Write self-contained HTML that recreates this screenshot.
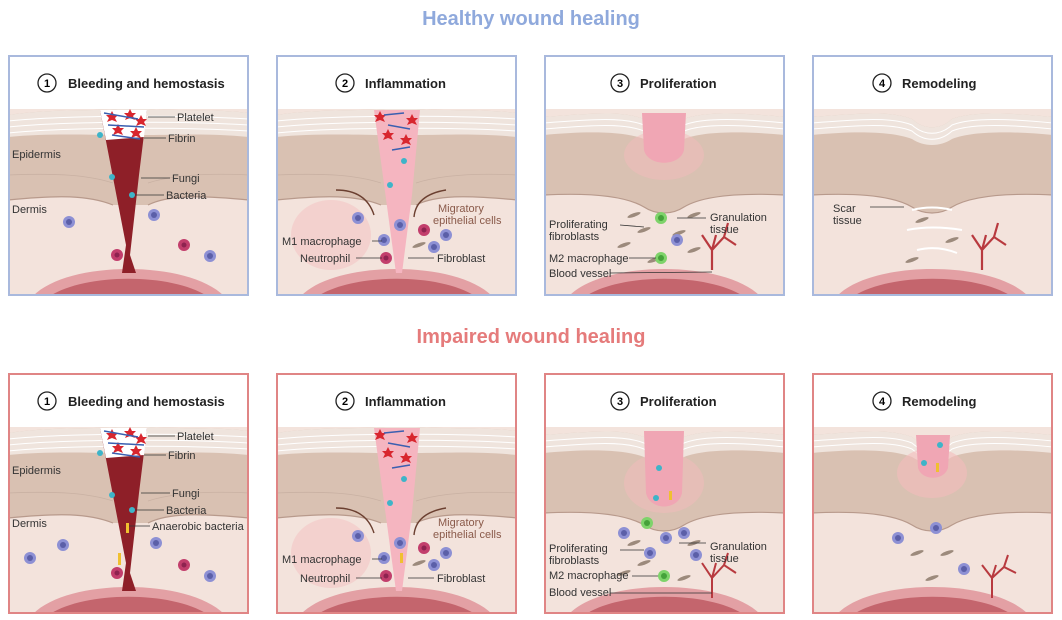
<!DOCTYPE html>
<html><head><meta charset="utf-8"><style>
html,body{margin:0;padding:0;background:#fff;}
svg{display:block;font-family:"Liberation Sans",sans-serif;}
.l{font-size:11px;fill:#333;}
.h{font-size:13px;font-weight:bold;fill:#222;}
.ln{stroke:#333;stroke-width:0.8;fill:none;}
</style></head><body>
<svg width="1062" height="620" viewBox="0 0 1062 620" xmlns="http://www.w3.org/2000/svg">
<defs>
<g id="skinFlat">
 <rect x="0" y="0" width="241" height="241" fill="#f3e3dc"/>
 <rect x="0" y="0" width="241" height="54" fill="#fff"/>
 <path d="M0,60 C40,54 80,56 110,54 L140,54 C170,56 210,54 241,58 L241,145 C190,140 160,140 140,150 L105,150 C80,140 50,140 0,145 Z" fill="#d9c1b2"/>
 <path d="M0,60 C40,54 80,56 110,54 L140,54 C170,56 210,54 241,58 L241,82 C200,78 170,80 140,80 L110,80 C80,80 40,78 0,82 Z" fill="#efe4dd"/>
 <path d="M0,66 C60,60 180,60 241,64 M0,72 C60,66 180,66 241,70 M0,78 C60,72 180,72 241,76" stroke="#fff" stroke-width="1" fill="none"/>
 <path d="M0,120 C50,118 80,120 105,128 M140,128 C165,120 200,118 241,120" stroke="#c9b1a3" stroke-width="0.8" fill="none"/>
 <path d="M0,145 C50,140 80,140 105,150 M140,150 C160,140 190,140 241,145" stroke="#b89a8c" stroke-width="1.2" fill="none"/>
 <path d="M25,241 C60,205 180,205 216,241 Z" fill="#e3a0a4"/>
 <path d="M42,241 C78,218 163,218 199,241 Z" fill="#c4656d"/>
</g>
<g id="skinDip">
 <rect x="0" y="0" width="241" height="241" fill="#f3e3dc"/>
 <rect x="0" y="0" width="241" height="54" fill="#fff"/>
 <path d="M0,62 C50,58 80,56 100,64 C112,75 128,75 140,64 C160,56 200,58 241,62 L241,140 C200,138 160,140 140,152 C128,160 112,160 100,152 C80,140 40,138 0,140 Z" fill="#d9c1b2"/>
 <path d="M0,62 C50,58 80,56 100,64 C112,75 128,75 140,64 C160,56 200,58 241,62 L241,80 C200,76 160,76 140,84 C128,92 112,92 100,84 C80,76 40,76 0,80 Z" fill="#efe4dd"/>
 <path d="M0,68 C50,64 80,62 100,70 C112,81 128,81 140,70 C160,62 200,64 241,68 M0,74 C50,70 80,68 100,76 C112,87 128,87 140,76 C160,68 200,70 241,74" stroke="#fff" stroke-width="1" fill="none"/>
 <path d="M0,140 C40,138 80,140 100,152 C112,160 128,160 140,152 C160,140 200,138 241,140" stroke="#b89a8c" stroke-width="1.2" fill="none"/>
 <path d="M25,241 C60,205 180,205 216,241 Z" fill="#e3a0a4"/>
 <path d="M42,241 C78,218 163,218 199,241 Z" fill="#c4656d"/>
</g>
<g id="mac"><circle r="6" fill="#8d90d4"/><circle r="3" fill="#5b5fa8"/></g>
<g id="neu"><circle r="6" fill="#c23e6c"/><circle r="2.5" fill="#8e2350"/></g>
<g id="m2"><circle r="6" fill="#7ed36a"/><circle r="3" fill="#45a23a"/></g>
<g id="plt"><path d="M0,-6 L2,-2 6,-2 3,1 5,5 0,3 -5,5 -3,1 -6,-2 -2,-2Z" fill="#d8262e"/></g>
<g id="fib"><ellipse rx="7" ry="1.8" fill="#9c8a7c" transform="rotate(-20)"/></g>
</defs>

<text x="531" y="25" text-anchor="middle" font-size="20" font-weight="bold" fill="#8fa9dc">Healthy wound healing</text>
<text x="531" y="343" text-anchor="middle" font-size="20" font-weight="bold" fill="#e57b7b">Impaired wound healing</text>

<!-- ROW 1 -->
<g transform="translate(8,55)">
 <use href="#skinFlat"/>
 <path d="M92,55 L139,55 L131,120 L122,200 L128,218 L114,218 L118,190 Z" fill="#8e1f28"/>
 <path d="M92,55 L139,55 L136,82 L98,85 Z" fill="#fff"/>
 <use href="#plt" x="104" y="62"/><use href="#plt" x="122" y="60"/><use href="#plt" x="133" y="66"/><use href="#plt" x="110" y="75"/><use href="#plt" x="128" y="78"/>
 <path d="M96,58 L130,64 M100,70 L136,72 M104,80 L132,84" stroke="#3a5fb0" stroke-width="1.5"/>
 <circle cx="92" cy="80" r="3" fill="#3eb4c8"/><circle cx="104" cy="122" r="3" fill="#3eb4c8"/><circle cx="124" cy="140" r="3" fill="#3eb4c8"/>
 <use href="#mac" x="61" y="167"/><use href="#mac" x="202" y="201"/><use href="#mac" x="146" y="160"/>
 <use href="#neu" x="109" y="200"/><use href="#neu" x="176" y="190"/>
 <text class="h" x="60" y="33">Bleeding and hemostasis</text>
 <circle cx="39" cy="28" r="9" fill="#fff" stroke="#222" stroke-width="1.3"/><text x="39" y="32" text-anchor="middle" font-size="11" font-weight="bold">1</text>
 <text class="l" x="4" y="103">Epidermis</text><text class="l" x="4" y="158">Dermis</text>
 <path class="ln" d="M140,62 L167,62 M136,83 L158,83 M133,123 L162,123 M127,140 L156,140"/>
 <text class="l" x="169" y="66">Platelet</text><text class="l" x="160" y="87">Fibrin</text>
 <text class="l" x="164" y="127">Fungi</text><text class="l" x="158" y="144">Bacteria</text>
 <rect x="1" y="1" width="239" height="239" fill="none" stroke="#a9b9dd" stroke-width="2"/>
</g>

<g transform="translate(276,55)">
 <use href="#skinFlat"/>
 <ellipse cx="55" cy="180" rx="40" ry="35" fill="#f4c4c4" opacity="0.6"/>
 <path d="M98,55 L144,55 L136,140 L126,218 L120,218 Z" fill="#f5b5c0"/>
 <use href="#plt" x="104" y="62"/><use href="#plt" x="136" y="65"/><use href="#plt" x="112" y="80"/><use href="#plt" x="130" y="85"/>
 <path d="M108,60 L128,58 M112,70 L134,74 M116,95 L134,92" stroke="#3a5fb0" stroke-width="1.5"/>
 <circle cx="128" cy="106" r="3" fill="#3eb4c8"/><circle cx="114" cy="130" r="3" fill="#3eb4c8"/>
 <path d="M60,135 Q90,135 98,160 M170,135 Q140,140 138,162" stroke="#6b3f30" stroke-width="1.4" fill="none"/>
 <use href="#mac" x="124" y="170"/><use href="#mac" x="82" y="163"/><use href="#mac" x="108" y="185"/><use href="#mac" x="170" y="180"/><use href="#mac" x="158" y="192"/>
 <use href="#neu" x="110" y="203"/><use href="#neu" x="148" y="175"/>
 <use href="#fib" x="143" y="190"/>
 <text class="h" x="89" y="33">Inflammation</text>
 <circle cx="69" cy="28" r="9" fill="#fff" stroke="#222" stroke-width="1.3"/><text x="69" y="32" text-anchor="middle" font-size="11" font-weight="bold">2</text>
 <text x="162" y="157" font-size="11" fill="#8a5a4a">Migratory</text><text x="157" y="169" font-size="11" fill="#8a5a4a">epithelial cells</text>
 <path class="ln" d="M96,186 L106,186 M80,203 L106,203 M132,203 L158,203"/>
 <text class="l" x="6" y="190">M1 macrophage</text><text class="l" x="24" y="207">Neutrophil</text><text class="l" x="161" y="207">Fibroblast</text>
 <rect x="1" y="1" width="239" height="239" fill="none" stroke="#a9b9dd" stroke-width="2"/>
</g>

<g transform="translate(544,55)">
 <use href="#skinDip"/>
 <ellipse cx="120" cy="100" rx="40" ry="25" fill="#f4bcbc" opacity="0.5"/>
 <path d="M98,58 L142,58 L140,95 C136,112 104,112 100,95 Z" fill="#f0a6b4"/>
 <use href="#fib" x="90" y="160"/><use href="#fib" x="150" y="160"/><use href="#fib" x="100" y="175"/><use href="#fib" x="135" y="178"/><use href="#fib" x="80" y="190"/><use href="#fib" x="150" y="195"/><use href="#fib" x="110" y="205"/>
 <use href="#m2" x="117" y="163"/><use href="#m2" x="117" y="203"/><use href="#mac" x="133" y="185"/>
 <path d="M168,215 L168,195 L158,180 M168,195 L180,182 L192,190 M180,182 L184,168 M168,195 L172,180" stroke="#b83a3f" stroke-width="2.2" fill="none"/>
 <text class="h" x="96" y="33">Proliferation</text>
 <circle cx="76" cy="28" r="9" fill="#fff" stroke="#222" stroke-width="1.3"/><text x="76" y="32" text-anchor="middle" font-size="11" font-weight="bold">3</text>
 <path class="ln" d="M133,163 L162,163 M76,170 L100,172 M85,203 L112,203 M66,218 L168,217"/>
 <text class="l" x="166" y="166">Granulation</text><text class="l" x="166" y="178">tissue</text>
 <text class="l" x="5" y="173">Proliferating</text><text class="l" x="5" y="185">fibroblasts</text>
 <text class="l" x="5" y="207">M2 macrophage</text><text class="l" x="5" y="222">Blood vessel</text>
 <rect x="1" y="1" width="239" height="239" fill="none" stroke="#a9b9dd" stroke-width="2"/>
</g>

<g transform="translate(812,55)">
 <use href="#skinDip"/>
 <path d="M100,155 Q120,150 140,155 M95,175 Q120,170 150,175 M105,195 Q125,190 145,198" stroke="#fff" stroke-width="2" fill="none"/>
 <use href="#fib" x="110" y="165"/><use href="#fib" x="140" y="185"/><use href="#fib" x="100" y="205"/>
 <path d="M170,215 L170,195 L160,180 M170,195 L182,182 L194,190 M182,182 L186,168 M170,195 L174,180" stroke="#b83a3f" stroke-width="2.2" fill="none"/>
 <text class="h" x="90" y="33">Remodeling</text>
 <circle cx="70" cy="28" r="9" fill="#fff" stroke="#222" stroke-width="1.3"/><text x="70" y="32" text-anchor="middle" font-size="11" font-weight="bold">4</text>
 <path class="ln" d="M58,152 L92,152"/>
 <text class="l" x="21" y="157">Scar</text><text class="l" x="21" y="169">tissue</text>
 <rect x="1" y="1" width="239" height="239" fill="none" stroke="#a9b9dd" stroke-width="2"/>
</g>

<!-- ROW 2 -->
<g transform="translate(8,373)">
 <use href="#skinFlat"/>
 <path d="M92,55 L139,55 L131,120 L122,200 L128,218 L114,218 L118,190 Z" fill="#8e1f28"/>
 <path d="M92,55 L139,55 L136,82 L98,85 Z" fill="#fff"/>
 <use href="#plt" x="104" y="62"/><use href="#plt" x="122" y="60"/><use href="#plt" x="133" y="66"/><use href="#plt" x="110" y="75"/><use href="#plt" x="128" y="78"/>
 <path d="M96,58 L130,64 M100,70 L136,72 M104,80 L132,84" stroke="#3a5fb0" stroke-width="1.5"/>
 <circle cx="92" cy="80" r="3" fill="#3eb4c8"/><circle cx="104" cy="122" r="3" fill="#3eb4c8"/><circle cx="124" cy="137" r="3" fill="#3eb4c8"/>
 <rect x="118" y="150" width="3" height="10" fill="#f0c030"/><rect x="110" y="180" width="3" height="12" fill="#f0c030"/>
 <use href="#mac" x="22" y="185"/><use href="#mac" x="55" y="172"/><use href="#mac" x="148" y="170"/><use href="#mac" x="202" y="203"/>
 <use href="#neu" x="109" y="200"/><use href="#neu" x="176" y="192"/>
 <text class="h" x="60" y="33">Bleeding and hemostasis</text>
 <circle cx="39" cy="28" r="9" fill="#fff" stroke="#222" stroke-width="1.3"/><text x="39" y="32" text-anchor="middle" font-size="11" font-weight="bold">1</text>
 <text class="l" x="4" y="101">Epidermis</text><text class="l" x="4" y="154">Dermis</text>
 <path class="ln" d="M140,63 L167,63 M136,82 L158,82 M133,120 L162,120 M127,137 L156,137 M121,153 L142,153"/>
 <text class="l" x="169" y="67">Platelet</text><text class="l" x="160" y="86">Fibrin</text>
 <text class="l" x="164" y="124">Fungi</text><text class="l" x="158" y="141">Bacteria</text><text class="l" x="144" y="157">Anaerobic bacteria</text>
 <rect x="1" y="1" width="239" height="239" fill="none" stroke="#e08585" stroke-width="2"/>
</g>

<g transform="translate(276,373)">
 <use href="#skinFlat"/>
 <ellipse cx="55" cy="180" rx="40" ry="35" fill="#f4c4c4" opacity="0.6"/>
 <path d="M98,55 L144,55 L136,140 L126,218 L120,218 Z" fill="#f5b5c0"/>
 <use href="#plt" x="104" y="62"/><use href="#plt" x="136" y="65"/><use href="#plt" x="112" y="80"/><use href="#plt" x="130" y="85"/>
 <path d="M108,60 L128,58 M112,70 L134,74 M116,95 L134,92" stroke="#3a5fb0" stroke-width="1.5"/>
 <circle cx="128" cy="106" r="3" fill="#3eb4c8"/><circle cx="114" cy="130" r="3" fill="#3eb4c8"/>
 <rect x="124" y="180" width="3" height="10" fill="#f0c030"/>
 <path d="M60,135 Q90,135 98,160 M170,135 Q140,140 138,162" stroke="#6b3f30" stroke-width="1.4" fill="none"/>
 <use href="#mac" x="124" y="170"/><use href="#mac" x="82" y="163"/><use href="#mac" x="108" y="185"/><use href="#mac" x="170" y="180"/><use href="#mac" x="158" y="192"/>
 <use href="#neu" x="110" y="203"/><use href="#neu" x="148" y="175"/>
 <use href="#fib" x="143" y="190"/>
 <text class="h" x="89" y="33">Inflammation</text>
 <circle cx="69" cy="28" r="9" fill="#fff" stroke="#222" stroke-width="1.3"/><text x="69" y="32" text-anchor="middle" font-size="11" font-weight="bold">2</text>
 <text x="162" y="153" font-size="11" fill="#8a5a4a">Migratory</text><text x="157" y="165" font-size="11" fill="#8a5a4a">epithelial cells</text>
 <path class="ln" d="M96,186 L106,186 M80,205 L106,205 M132,205 L158,205"/>
 <text class="l" x="6" y="190">M1 macrophage</text><text class="l" x="24" y="209">Neutrophil</text><text class="l" x="161" y="209">Fibroblast</text>
 <rect x="1" y="1" width="239" height="239" fill="none" stroke="#e08585" stroke-width="2"/>
</g>

<g transform="translate(544,373)">
 <use href="#skinDip"/>
 <ellipse cx="120" cy="110" rx="40" ry="30" fill="#f4bcbc" opacity="0.5"/>
 <path d="M100,58 L140,58 L138,120 C134,138 106,138 102,120 Z" fill="#f0a6b4"/>
 <circle cx="115" cy="95" r="3" fill="#3eb4c8"/><circle cx="112" cy="125" r="3" fill="#3eb4c8"/><rect x="125" y="118" width="3" height="9" fill="#f0c030"/>
 <use href="#fib" x="90" y="170"/><use href="#fib" x="150" y="170"/><use href="#fib" x="100" y="190"/><use href="#fib" x="80" y="200"/><use href="#fib" x="140" y="205"/>
 <use href="#m2" x="103" y="150"/><use href="#m2" x="120" y="203"/>
 <use href="#mac" x="80" y="160"/><use href="#mac" x="122" y="165"/><use href="#mac" x="106" y="180"/><use href="#mac" x="152" y="182"/><use href="#mac" x="140" y="160"/>
 <path d="M168,225 L168,205 L158,190 M168,205 L180,192 L192,200 M180,192 L184,180 M168,205 L172,190" stroke="#b83a3f" stroke-width="2" fill="none"/>
 <text class="h" x="96" y="33">Proliferation</text>
 <circle cx="76" cy="28" r="9" fill="#fff" stroke="#222" stroke-width="1.3"/><text x="76" y="32" text-anchor="middle" font-size="11" font-weight="bold">3</text>
 <path class="ln" d="M135,170 L162,170 M76,177 L100,177 M88,203 L114,203 M66,220 L168,220"/>
 <text class="l" x="166" y="177">Granulation</text><text class="l" x="166" y="189">tissue</text>
 <text class="l" x="5" y="179">Proliferating</text><text class="l" x="5" y="191">fibroblasts</text>
 <text class="l" x="5" y="206">M2 macrophage</text><text class="l" x="5" y="223">Blood vessel</text>
 <rect x="1" y="1" width="239" height="239" fill="none" stroke="#e08585" stroke-width="2"/>
</g>

<g transform="translate(812,373)">
 <use href="#skinDip"/>
 <ellipse cx="120" cy="100" rx="35" ry="25" fill="#f4bcbc" opacity="0.6"/>
 <path d="M104,62 L138,62 L136,95 C132,108 110,108 106,95 Z" fill="#f0a6b4"/>
 <circle cx="128" cy="72" r="3" fill="#3eb4c8"/><circle cx="112" cy="90" r="3" fill="#3eb4c8"/><rect x="124" y="90" width="3" height="9" fill="#f0c030"/>
 <use href="#mac" x="124" y="155"/><use href="#mac" x="86" y="165"/><use href="#mac" x="152" y="196"/>
 <use href="#fib" x="105" y="180"/><use href="#fib" x="135" y="180"/><use href="#fib" x="120" y="205"/>
 <path d="M180,225 L180,205 L170,192 M180,205 L192,194 L204,200 M192,194 L196,182 M180,205 L184,192" stroke="#b83a3f" stroke-width="2" fill="none"/>
 <text class="h" x="90" y="33">Remodeling</text>
 <circle cx="70" cy="28" r="9" fill="#fff" stroke="#222" stroke-width="1.3"/><text x="70" y="32" text-anchor="middle" font-size="11" font-weight="bold">4</text>
 <rect x="1" y="1" width="239" height="239" fill="none" stroke="#e08585" stroke-width="2"/>
</g>
</svg>
</body></html>
